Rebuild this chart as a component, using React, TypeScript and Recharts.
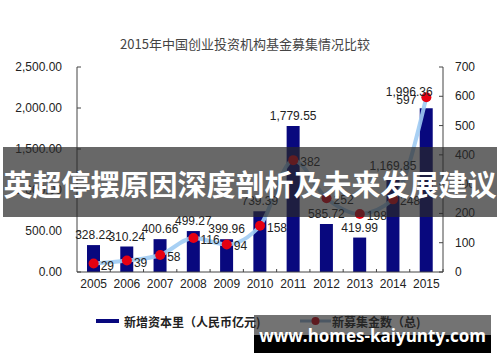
import React from 'react';
import { ComposedChart, Bar, Line, XAxis, YAxis, LabelList } from 'recharts';

const years = ['2005', '2006', '2007', '2008', '2009', '2010', '2011', '2012', '2013', '2014', '2015'];
const newCapital = [328.22, 310.24, 400.66, 499.27, 399.96, 739.39, 1779.55, 585.72, 419.99, 1169.85, 1996.36];
const newFunds = [29, 39, 58, 116, 94, 158, 382, 252, 198, 248, 597];
const leftTicks = [0, 500, 1000, 1500, 2000, 2500];
const rightTicks = [0, 100, 200, 300, 400, 500, 600, 700];

const titleText = '2015年中国创业投资机构基金募集情况比较';
const legendBar = '新增资本里（人民币亿元)';
const legendLine = '新募集金数（总)';
const bannerText = '英超停摆原因深度剖析及未来发展建议';
const watermarkText = 'www.homes-kaiyunty.com';

const data = years.map((y, i) => ({ year: y, capital: newCapital[i], funds: newFunds[i] }));

const FONT = '"Liberation Sans", Arial, sans-serif';
const CJK = '"Noto Sans CJK SC", "Noto Sans", sans-serif';

const fmt2 = (v: number) =>
  v.toLocaleString('en-US', { minimumFractionDigits: 2, maximumFractionDigits: 2 });

const LeftTick = (p: any) => (
  <g>
    <line x1={p.x} x2={p.x + 4} y1={p.y} y2={p.y} stroke="#444" />
    <text x={p.x - 15} y={p.y + 4} textAnchor="end" fontSize={12} fill="#222" fontFamily={FONT}>
      {fmt2(p.payload.value)}
    </text>
  </g>
);

const RightTick = (p: any) => (
  <g>
    <line x1={p.x - 4} x2={p.x} y1={p.y} y2={p.y} stroke="#444" />
    <text x={p.x + 12} y={p.y + 4} textAnchor="start" fontSize={12} fill="#222" fontFamily={FONT}>
      {p.payload.value}
    </text>
  </g>
);

const BottomTick = (p: any) => {
  const half = 366 / years.length / 2;
  return (
    <g>
      <line x1={p.x + half} x2={p.x + half} y1={p.y} y2={p.y - 3} stroke="#444" />
      <text x={p.x} y={p.y + 16} textAnchor="middle" fontSize={12} fill="#222" fontFamily={FONT}>
        {p.payload.value}
      </text>
    </g>
  );
};

const BarLabel = (p: any) => {
  const last = p.index === years.length - 1;
  const cx = p.x + p.width / 2 - (last ? 17 : 0);
  return (
    <text x={cx} y={p.y - (last ? 12 : 6)} textAnchor="middle" fontSize={12} fill="#222" fontFamily={FONT}>
      {fmt2(p.value)}
    </text>
  );
};

const LineLabel = (p: any) => {
  const last = p.index === years.length - 1;
  if (last) {
    return (
      <text x={p.x - 10} y={p.y + 7} textAnchor="end" fontSize={12} fill="#222" fontFamily={FONT}>
        {p.value}
      </text>
    );
  }
  return (
    <text x={p.x + 7} y={p.y + 6} textAnchor="start" fontSize={12} fill="#222" fontFamily={FONT}>
      {p.value}
    </text>
  );
};

export default function App() {
  return (
    <div style={{ position: 'absolute', left: 0, top: 0, width: 500, height: 362, background: '#fff', overflow: 'hidden' }}>
      <div
        style={{
          position: 'absolute', left: 0, top: 35, width: 490, textAlign: 'center',
          fontFamily: CJK, fontSize: 13, color: '#444', lineHeight: '18px',
        }}
      >
        {titleText}
      </div>
      <ComposedChart width={500} height={362} data={data} margin={{ top: 67, right: 17, bottom: 70, left: 17 }}>
        <XAxis
          dataKey="year"
          height={20}
          tickLine={false}
          tickSize={0}
          tickMargin={0}
          axisLine={{ stroke: '#444' }}
          tick={<BottomTick />}
          interval={0}
        />
        <YAxis
          yAxisId="left"
          orientation="left"
          width={60}
          domain={[0, 2500]}
          ticks={leftTicks}
          tickLine={false}
          tickSize={0}
          tickMargin={0}
          axisLine={{ stroke: '#444' }}
          tick={<LeftTick />}
          interval={0}
        />
        <YAxis
          yAxisId="right"
          orientation="right"
          width={40}
          domain={[0, 700]}
          ticks={rightTicks}
          tickLine={false}
          tickSize={0}
          tickMargin={0}
          axisLine={{ stroke: '#444' }}
          tick={<RightTick />}
          interval={0}
        />
        <Bar yAxisId="left" dataKey="capital" fill="#08087e" barSize={13} isAnimationActive={false}>
          <LabelList dataKey="capital" content={<BarLabel />} />
        </Bar>
        <Line
          yAxisId="right"
          dataKey="funds"
          type="monotone"
          stroke="#9fcbf3"
          strokeWidth={4}
          strokeOpacity={0.9}
          dot={{ r: 5, fill: '#e60012', stroke: 'none' }}
          activeDot={false}
          isAnimationActive={false}
        >
          <LabelList dataKey="funds" content={<LineLabel />} />
        </Line>
      </ComposedChart>

      {/* legend */}
      <div style={{ position: 'absolute', left: 96, top: 312, height: 18, display: 'flex', alignItems: 'center', fontFamily: CJK, fontSize: 12, fontWeight: 700, color: '#222' }}>
        <div style={{ width: 23, height: 4, background: '#08087e', marginRight: 5 }} />
        <span>{legendBar}</span>
      </div>
      <div style={{ position: 'absolute', left: 300, top: 312, height: 18, display: 'flex', alignItems: 'center', fontFamily: CJK, fontSize: 12, fontWeight: 700, color: '#222' }}>
        <svg width={31} height={12} style={{ marginRight: 1 }}>
          <line x1={0} x2={31} y1={6} y2={6} stroke="#8fb0d0" strokeWidth={3} />
          <circle cx={15.5} cy={6} r={4} fill="#c00010" />
        </svg>
        <span>{legendLine}</span>
      </div>

      {/* banner overlay */}
      <div
        style={{
          position: 'absolute', left: 3, top: 147, width: 494, height: 70,
          background: 'rgba(40,40,40,0.7)',
        }}
      />
      <div
        style={{
          position: 'absolute', left: 0, top: 164, width: 500, textAlign: 'center',
          fontFamily: CJK, fontWeight: 700, fontSize: 29, color: '#fff', lineHeight: '38px',
          whiteSpace: 'nowrap',
        }}
      >
        {bannerText}
      </div>

      {/* watermark */}
      <div style={{ position: 'absolute', left: 254, top: 315, width: 237, height: 20, background: 'rgba(40,40,40,0.65)' }} />
      <div style={{ position: 'absolute', left: 254, top: 335, width: 237, height: 18, background: '#000' }} />
      <div
        style={{
          position: 'absolute', left: 254, top: 324, width: 237, textAlign: 'center',
          fontFamily: '"Open Sans", sans-serif', fontWeight: 700, fontSize: 17, color: '#fff',
          lineHeight: '24px', whiteSpace: 'nowrap',
        }}
      >
        {watermarkText}
      </div>
    </div>
  );
}
